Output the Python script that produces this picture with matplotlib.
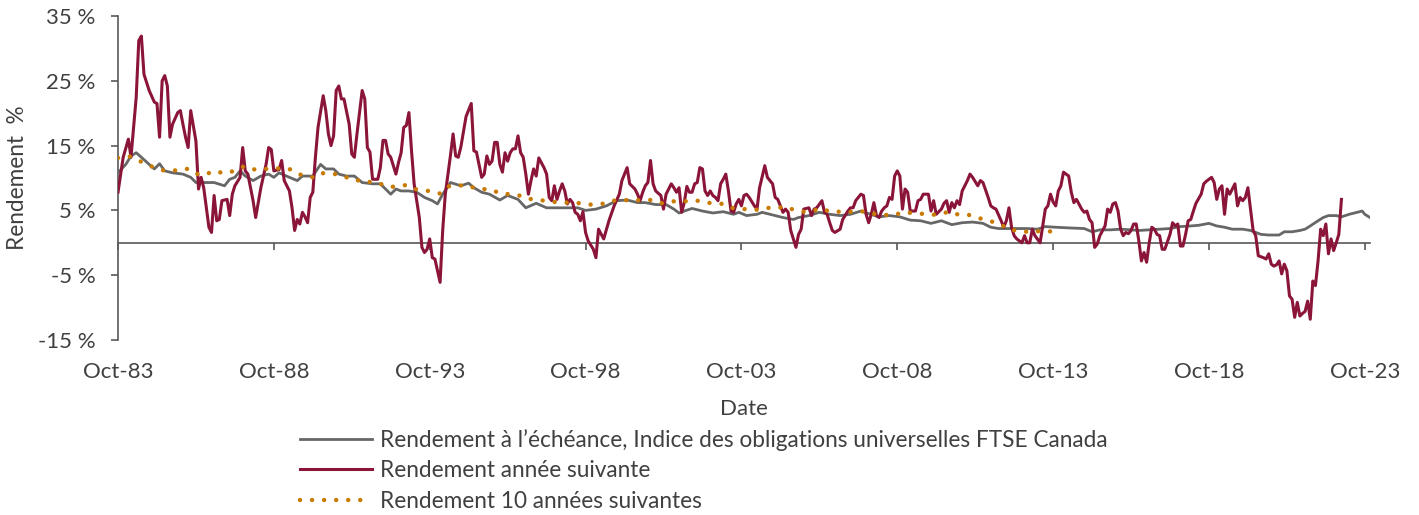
import matplotlib as mpl
import matplotlib.pyplot as plt

mpl.rcParams['font.family'] = ['Lato', 'DejaVu Sans']

# months counted from Oct-1983
red_m = [0, 2, 4, 5, 6, 7, 8, 9, 10, 12, 14, 15, 16, 17, 18, 19, 20, 21, 23, 24,
         25, 26, 27, 28, 30, 31, 32, 33, 35, 36, 37, 38, 39, 40, 42, 43, 44, 45, 47, 48,
         49, 50, 52, 53, 55, 57, 58, 59, 60, 62, 63, 64, 66, 67, 68, 69, 70, 71, 72, 73,
         74, 75, 76, 77, 79, 80, 81, 82, 83, 84, 85, 86, 87, 89, 90, 91, 92, 94, 95, 96,
         97, 98, 100, 101, 102, 103, 104, 105, 107, 108, 109, 110, 111, 112, 113, 114, 115, 116, 117, 118,
         119, 120, 121, 122, 123, 124, 125, 126, 128, 129, 130, 131, 132, 134, 136, 137, 138, 140, 141, 142,
         143, 144, 145, 146, 147, 148, 149, 150, 151, 152, 153, 154, 155, 156, 157, 158, 159, 160, 161, 162,
         164, 165, 166, 167, 168, 169, 170, 171, 172, 173, 174, 175, 176, 177, 178, 179, 180, 181, 183, 184,
         185, 187, 189, 191, 193, 194, 196, 197, 199, 200, 201, 202, 203, 204, 205, 206, 207, 209, 210, 211,
         213, 214, 215, 216, 217, 218, 219, 220, 221, 222, 223, 224, 225, 226, 227, 228, 229, 230, 231, 232,
         233, 234, 235, 236, 237, 238, 239, 240, 241, 242, 243, 245, 246, 247, 249, 250, 252, 253, 254, 256,
         257, 258, 259, 261, 262, 263, 264, 266, 267, 268, 269, 271, 272, 273, 274, 275, 276, 278, 279, 281,
         282, 283, 284, 286, 287, 288, 289, 290, 291, 292, 293, 294, 295, 296, 297, 298, 299, 300, 301, 302,
         303, 304, 305, 307, 308, 309, 310, 312, 313, 314, 315, 317, 318, 319, 320, 321, 322, 323, 324, 325,
         327, 328, 329, 331, 332, 333, 335, 336, 337, 338, 340, 341, 342, 343, 344, 345, 346, 348, 349, 350,
         351, 352, 353, 355, 357, 358, 359, 360, 361, 362, 363, 364, 366, 367, 368, 369, 371, 372, 373, 374,
         375, 376, 377, 378, 380, 381, 382, 383, 384, 385, 386, 387, 388, 389, 390, 391, 392, 393, 394, 395,
         396, 397, 398, 399, 400, 401, 402, 403, 405, 406, 407, 408, 409, 410, 411, 412, 413, 414, 415, 417,
         418, 419, 421, 422, 423, 424, 425, 426, 427, 428, 430, 431, 432, 433, 434, 435, 437, 438, 439, 441,
         442, 443, 444, 445, 446, 447, 448, 449, 450, 451, 452, 453, 454, 455, 456, 457, 458, 459, 460, 461,
         462, 463, 464, 465, 466, 467, 468, 469, 470, 471]
red_v = [7.8, 13.2, 16.0, 13.2, 17.8, 22.4, 31.2, 31.9, 26.0, 23.5, 21.7, 21.5, 16.3, 25.0, 25.8, 24.2, 16.3, 18.3, 20.1, 20.4,
         18.3, 16.3, 14.7, 20.4, 15.7, 8.3, 10.1, 8.5, 2.4, 1.6, 7.3, 3.4, 3.6, 6.5, 6.7, 4.2, 7.5, 8.8, 10.1, 14.7,
         11.1, 10.6, 6.5, 3.9, 8.5, 12.1, 14.7, 14.4, 11.1, 11.3, 12.7, 9.6, 8.0, 5.4, 1.9, 3.6, 2.9, 4.7, 4.0, 3.1,
         7.0, 7.8, 13.2, 17.8, 22.7, 20.4, 16.8, 15.0, 16.5, 23.5, 24.2, 22.2, 22.2, 18.3, 13.7, 13.2, 16.8, 23.5, 22.2, 14.7,
         14.0, 9.8, 9.8, 11.6, 15.8, 15.8, 13.7, 13.2, 10.6, 12.4, 13.9, 17.8, 18.1, 20.1, 14.2, 9.1, 6.5, 3.9, -0.7, -1.5,
         -1.0, 0.6, -2.3, -2.5, -4.3, -6.1, 1.9, 7.5, 13.5, 16.8, 13.4, 13.2, 14.8, 19.5, 21.5, 14.2, 14.0, 10.1, 10.6, 13.4,
         12.1, 12.6, 15.5, 15.5, 12.1, 10.9, 13.9, 12.6, 13.9, 14.5, 14.5, 16.5, 13.9, 13.2, 10.6, 7.5, 9.6, 11.4, 10.3, 13.1,
         11.6, 10.6, 7.0, 6.5, 8.8, 6.7, 8.0, 9.1, 8.0, 6.0, 6.7, 6.2, 4.7, 4.4, 3.4, 4.8, 1.6, 0.3, -1.0, -2.3,
         2.1, 0.6, 3.4, 5.7, 7.5, 9.6, 11.6, 9.1, 8.3, 7.5, 6.5, 7.8, 8.8, 9.3, 12.7, 9.1, 8.0, 7.3, 5.2, 7.5,
         9.1, 8.5, 7.8, 8.5, 4.7, 6.2, 8.7, 7.8, 7.8, 9.1, 9.3, 11.6, 11.4, 8.0, 7.3, 8.0, 7.3, 7.0, 6.5, 9.1,
         9.8, 10.6, 8.0, 4.9, 4.7, 6.0, 6.7, 5.7, 7.3, 7.5, 7.0, 5.7, 5.2, 8.5, 11.9, 10.1, 9.1, 7.0, 6.7, 4.7,
         5.2, 4.7, 1.9, -0.7, 1.3, 2.1, 5.2, 5.4, 4.2, 5.2, 5.4, 6.5, 4.7, 4.4, 3.1, 1.9, 1.6, 2.1, 3.6, 4.9,
         5.4, 5.4, 6.5, 7.5, 7.3, 4.4, 3.1, 4.4, 6.2, 4.2, 3.9, 4.9, 5.4, 5.7, 7.0, 6.7, 10.3, 11.1, 10.3, 5.2,
         8.3, 7.8, 4.9, 4.9, 6.5, 6.7, 7.5, 7.5, 4.9, 6.5, 4.4, 5.2, 6.1, 6.5, 4.7, 6.2, 5.4, 6.5, 5.9, 8.0,
         9.6, 10.6, 10.1, 8.8, 9.6, 9.3, 7.0, 5.7, 5.4, 5.2, 3.4, 2.4, 3.4, 5.4, 2.4, 1.1, 0.6, 0.0, 1.1, 0.0,
         0.0, 2.1, 1.1, 0.0, 5.2, 5.7, 7.5, 6.3, 5.7, 8.0, 8.8, 10.9, 10.3, 7.8, 6.2, 6.7, 5.2, 4.7, 4.9, 3.6,
         3.1, -0.7, -0.2, 1.1, 2.6, 5.2, 4.7, 6.0, 6.2, 4.9, 2.1, 1.1, 1.6, 1.4, 1.9, 2.9, 2.9, 0.3, -2.8, -1.5,
         -3.0, 0.0, 2.4, 2.1, 1.3, 1.1, -1.0, -1.0, 1.3, 3.1, 2.6, 2.9, -0.5, -0.5, 1.3, 3.4, 3.6, 4.9, 6.1, 7.5,
         9.1, 9.5, 10.1, 9.3, 6.7, 8.3, 8.8, 4.4, 8.3, 7.5, 9.1, 5.7, 7.0, 6.5, 7.0, 8.5, 1.9, 1.1, -2.0, -2.3,
         -2.5, -1.7, -3.3, -3.6, -3.4, -2.8, -4.8, -3.3, -4.3, -8.2, -8.7, -11.5, -9.2, -11.3, -10.9, -10.6, -9.0, -11.8, -5.9, -6.6,
         -2.8, 2.1, 1.1, 2.9, -1.7, 0.6, -1.2, 0.0, 1.3, 6.7]

gray_m = [0, 3, 5, 7, 9, 12, 14, 16, 18, 21, 25, 28, 30, 33, 37, 41, 43, 45, 47, 49,
          52, 55, 58, 60, 62, 66, 69, 71, 75, 78, 80, 83, 85, 88, 91, 94, 98, 101, 103, 105,
          107, 109, 112, 115, 118, 121, 123, 125, 128, 132, 135, 137, 140, 143, 147, 150, 154, 157, 161, 165,
          169, 173, 177, 180, 184, 188, 192, 196, 200, 203, 207, 211, 214, 216, 218, 221, 225, 229, 233, 237,
          239, 242, 246, 248, 252, 256, 260, 262, 266, 270, 274, 278, 282, 286, 289, 293, 297, 301, 305, 309,
          313, 317, 321, 325, 329, 333, 336, 339, 345, 350, 354, 357, 361, 366, 372, 375, 378, 382, 386, 390,
          393, 397, 401, 405, 409, 413, 416, 420, 423, 426, 429, 433, 436, 440, 443, 447, 449, 452, 455, 457,
          459, 462, 464, 466, 469, 471, 474, 477, 479, 480, 482]
gray_v = [10.8, 12.1, 13.4, 13.9, 13.2, 12.1, 11.4, 12.2, 11.1, 10.8, 10.6, 10.1, 9.3, 9.3, 9.3, 8.8, 9.8, 10.1, 11.1, 10.3,
          9.6, 10.3, 10.6, 10.1, 10.8, 10.1, 9.6, 10.3, 10.3, 12.1, 11.4, 11.4, 10.6, 10.3, 10.3, 9.3, 9.1, 9.1, 8.3, 7.5,
          8.3, 8.0, 8.0, 7.8, 7.0, 6.5, 6.0, 7.5, 9.3, 8.8, 9.2, 8.5, 7.8, 7.5, 6.6, 7.3, 6.7, 5.4, 6.1, 5.4,
          5.4, 5.4, 5.4, 5.0, 5.2, 5.7, 6.5, 6.6, 6.2, 6.2, 5.9, 5.9, 5.2, 4.6, 4.9, 5.3, 4.9, 4.6, 4.8, 4.4,
          4.7, 4.2, 4.4, 4.7, 4.3, 3.9, 3.6, 3.9, 4.2, 4.7, 4.4, 4.2, 4.4, 4.9, 4.5, 4.0, 4.2, 4.0, 3.5, 3.4,
          3.0, 3.4, 2.8, 3.1, 3.2, 3.0, 2.4, 2.2, 2.2, 2.2, 2.1, 2.5, 2.4, 2.3, 2.2, 1.7, 2.0, 2.0, 2.1, 2.0,
          1.9, 2.0, 2.1, 2.2, 2.5, 2.6, 2.7, 3.0, 2.6, 2.4, 2.1, 2.1, 1.9, 1.3, 1.2, 1.2, 1.7, 1.7, 1.9, 2.1,
          2.6, 3.4, 3.9, 4.2, 4.2, 4.0, 4.4, 4.7, 4.9, 4.4, 3.9]

orange_m = [0, 4, 7, 10, 14, 17, 21, 25, 28, 31, 34, 37, 40, 43, 46, 49, 52, 55, 59, 62,
            66, 69, 72, 75, 78, 81, 84, 88, 91, 95, 98, 101, 105, 108, 111, 114, 118, 121, 124, 127,
            130, 134, 137, 140, 144, 147, 151, 154, 157, 161, 164, 168, 171, 175, 178, 181, 184, 188, 191, 195,
            198, 202, 205, 209, 212, 216, 219, 223, 226, 230, 233, 236, 240, 243, 246, 250, 253, 257, 260, 264,
            267, 271, 274, 278, 281, 285, 288, 292, 295, 299, 302, 306, 309, 313, 316, 320, 323, 327, 330, 334,
            337, 340, 343, 346, 350, 353, 356, 360, 362]
orange_v = [13.1, 13.4, 12.9, 12.3, 11.6, 11.2, 11.1, 11.4, 11.4, 10.5, 10.6, 11.1, 10.8, 10.8, 11.5, 11.8, 11.3, 11.5, 11.3, 11.5,
            11.4, 10.6, 10.4, 10.1, 10.8, 10.6, 10.6, 10.1, 9.6, 9.7, 9.2, 9.1, 8.6, 8.8, 8.9, 8.3, 8.1, 7.9, 7.6, 8.7,
            8.8, 8.9, 8.5, 8.3, 8.2, 7.6, 7.5, 7.4, 6.8, 6.7, 6.5, 6.3, 6.2, 6.2, 6.1, 5.9, 5.9, 6.1, 6.5, 6.6,
            6.5, 6.6, 6.6, 6.1, 6.3, 6.5, 6.4, 6.5, 6.2, 6.1, 6.0, 5.4, 5.2, 5.2, 5.1, 5.4, 5.3, 5.6, 5.1, 4.8,
            4.9, 5.3, 4.8, 4.8, 4.7, 5.0, 4.7, 4.4, 4.3, 4.3, 4.7, 4.6, 4.5, 4.3, 4.4, 4.8, 4.4, 4.4, 3.9, 3.6,
            3.2, 2.8, 2.0, 1.9, 1.7, 1.7, 1.9, 1.7, 2.2]

tick_m = [0, 60, 120, 180, 240, 300, 360, 420, 480]
tick_lab = ['Oct-83', 'Oct-88', 'Oct-93', 'Oct-98', 'Oct-03', 'Oct-08', 'Oct-13', 'Oct-18', 'Oct-23']
y_ticks = [-15, -5, 5, 15, 25, 35]

lab_gray = "Rendement à l’échéance, Indice des obligations universelles FTSE Canada"
lab_red = "Rendement année suivante"
lab_orange = "Rendement 10 années suivantes"

txt = '#404040'
axc = '#595959'

fig = plt.figure(figsize=(14.19, 5.15), dpi=100)
ax = fig.add_axes([118/1419, 1-340/515, 1252/1419, 324/515])

l1, = ax.plot(gray_m, gray_v, color='#676767', lw=2.0, solid_joinstyle='round', zorder=3)
l2, = ax.plot(red_m, red_v, color='#8A1538', lw=2.2, solid_joinstyle='round', zorder=4)
l3, = ax.plot(orange_m, orange_v, color='#C97B00', lw=3.2, linestyle=(0, (0.01, 2.7)),
              dash_capstyle='round', zorder=5)

ax.set_xlim(0, 482)
ax.set_ylim(-15, 35)

for s in ['top', 'right']:
    ax.spines[s].set_visible(False)
ax.spines['bottom'].set_position(('data', 0))
ax.spines['bottom'].set_color(axc)
ax.spines['left'].set_color(axc)
ax.spines['bottom'].set_linewidth(1.2)
ax.spines['left'].set_linewidth(1.2)

ax.set_xticks(tick_m)
ax.set_xticklabels(tick_lab)
ax.set_yticks(y_ticks)
ax.set_yticklabels(['{} %'.format(v) for v in y_ticks])
ax.tick_params(axis='x', direction='out', length=5, width=1.2, color=axc,
               labelsize=16, labelcolor=txt, pad=81)
ax.tick_params(axis='y', direction='out', length=5, width=1.2, color=axc,
               labelsize=16, labelcolor=txt, pad=11)

fig.text(18/1419, 1-178/515, 'Rendement  %', rotation=90, ha='center', va='center',
         fontsize=16.3, color=txt)
fig.text(744/1419, 1-409/515, 'Date', ha='center', va='center', fontsize=16, color=txt)

fig.legend([l1, l2, l3], [lab_gray, lab_red, lab_orange], loc='upper left',
           bbox_to_anchor=(300/1419, 1-429/515), frameon=False, fontsize=16.3,
           handlelength=3.2, handletextpad=0.35, labelspacing=0.42, borderpad=0,
           borderaxespad=0, labelcolor=txt)

fig.savefig('out.png', dpi=100)
